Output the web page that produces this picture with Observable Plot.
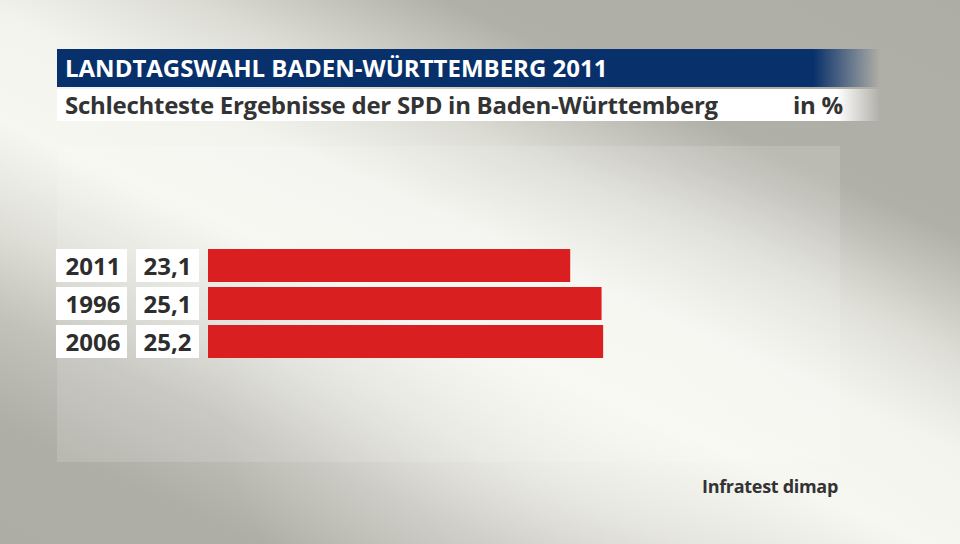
<!DOCTYPE html>
<html>
<head>
<meta charset="utf-8">
<script src="https://cdn.jsdelivr.net/npm/d3@7"></script>
<script src="https://cdn.jsdelivr.net/npm/@observablehq/plot@0.6"></script>
<style>
  html, body { margin: 0; padding: 0; }
  #root {
    position: relative; width: 960px; height: 544px; overflow: hidden;
    font-family: "Open Sans", sans-serif;
    background:
      radial-gradient(ellipse 380px 260px at 600px 420px, rgba(249,249,244,0.55) 0%, rgba(249,249,244,0) 100%),
      linear-gradient(204.6deg, #aeada5 0%, #b1b0a8 24%, #dcdcd5 36%, #f3f3ee 46%, #f7f7f2 57%, #dedeD7 68%, #c2c1ba 77%, #afaea6 88%, #aeada5 100%);
  }
  #panel { position: absolute; left: 57px; top: 146px; width: 783px; height: 316px; background: rgba(255,255,255,0.13); }
  #titlebar {
    position: absolute; left: 57px; top: 49px; width: 823px; height: 38px;
    background: linear-gradient(to right, #08306a 0px, #08306a 756px, rgba(8,48,106,0) 823px);
  }
  #titlebar span { position: absolute; left: 8px; top: 2px; color: #fff; font-weight: 700; font-size: 24px; letter-spacing: 0px; white-space: nowrap; }
  #subbar {
    position: absolute; left: 57px; top: 89px; width: 823px; height: 32px;
    background: linear-gradient(to right, #fff 0px, #fff 780px, rgba(255,255,255,0) 823px);
  }
  #subbar span { position: absolute; top: -1px; color: #333; font-weight: 700; font-size: 24px; letter-spacing: -0.27px; white-space: nowrap; }
  #chart { position: absolute; left: 0; top: 0; }
  #caption { position: absolute; left: 702px; top: 474px; color: #333; font-weight: 700; font-size: 18px; letter-spacing: -0.3px; white-space: nowrap; }
</style>
</head>
<body>
<div id="root">
  <div id="panel"></div>
  <div id="titlebar"><span>LANDTAGSWAHL BADEN-WÜRTTEMBERG 2011</span></div>
  <div id="subbar"><span style="left:8px">Schlechteste Ergebnisse der SPD in Baden-Württemberg</span><span style="left:736px">in %</span></div>
  <div id="chart"></div>
  <div id="caption">Infratest dimap</div>
</div>
<script>
const years = ["2011", "1996", "2006"];
const values = [23.1, 25.1, 25.2];
const valueLabels = ["23,1", "25,1", "25,2"];

const data = years.map((y, i) => ({year: y, value: values[i], label: valueLabels[i]}));

const chart = Plot.plot({
  width: 960,
  height: 544,
  margin: 0,
  x: {domain: [0, 40], range: [208, 208 + 40 * 15.68], axis: null},
  y: {domain: years, range: [246, 362], paddingInner: 0.13, paddingOuter: 0.065, axis: null},
  style: {background: "transparent", fontFamily: "Open Sans, sans-serif", overflow: "visible"},
  marks: [
    Plot.barX(data, {x1: 0, x2: 0, y: "year", fill: "#ffffff", insetLeft: -152, insetRight: 81}),
    Plot.barX(data, {x1: 0, x2: 0, y: "year", fill: "#ffffff", insetLeft: -72, insetRight: 9}),
    Plot.barX(data, {x: "value", y: "year", fill: "#d91f20"}),
    Plot.text(data, {x: 0, y: "year", text: "year", textAnchor: "start", dx: -143, dy: 1, fontSize: 24, fontWeight: "bold", fill: "#2d2d2d"}),
    Plot.text(data, {x: 0, y: "year", text: "label", textAnchor: "start", dx: -65, dy: 1, fontSize: 24, fontWeight: "bold", fill: "#2d2d2d"})
  ]
});
document.getElementById("chart").appendChild(chart);
</script>
</body>
</html>
